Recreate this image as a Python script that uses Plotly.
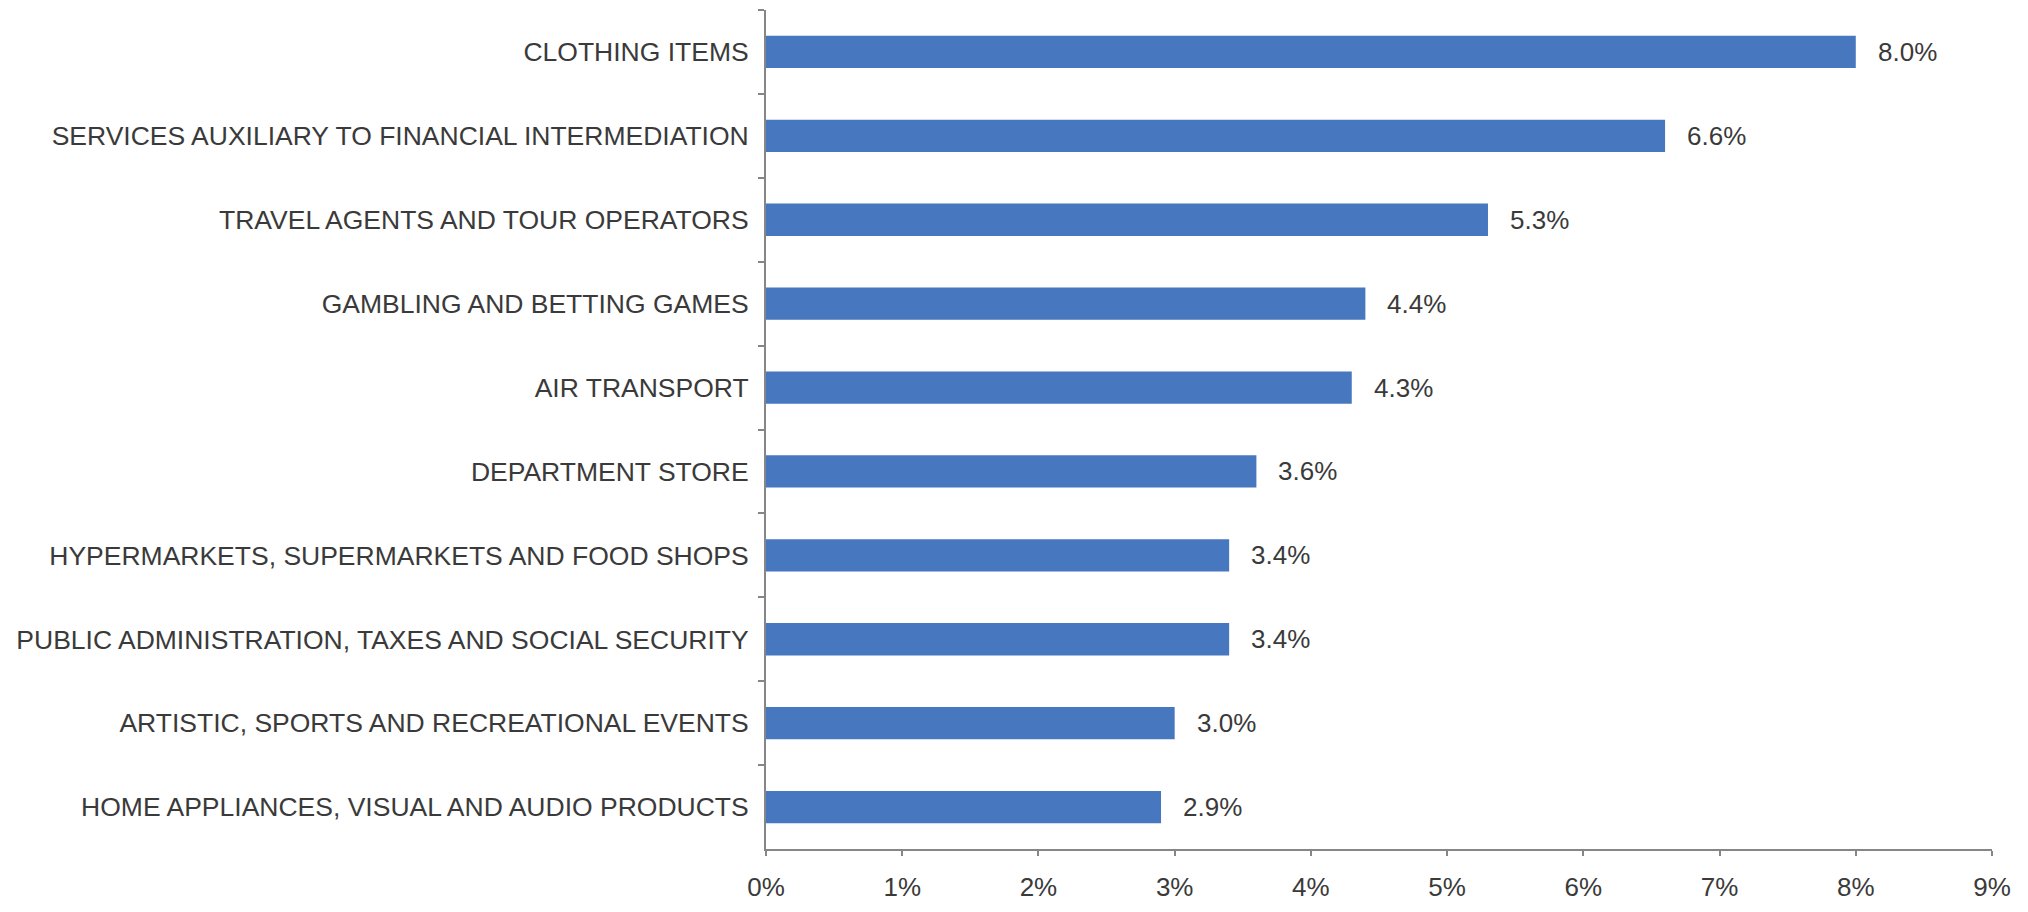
import plotly.graph_objects as go

# Share of spending by merchant category (%)
categories = [
    "CLOTHING ITEMS",
    "SERVICES AUXILIARY TO FINANCIAL INTERMEDIATION",
    "TRAVEL AGENTS AND TOUR OPERATORS",
    "GAMBLING AND BETTING GAMES",
    "AIR TRANSPORT",
    "DEPARTMENT STORE",
    "HYPERMARKETS, SUPERMARKETS AND FOOD SHOPS",
    "PUBLIC ADMINISTRATION, TAXES AND SOCIAL SECURITY",
    "ARTISTIC, SPORTS AND RECREATIONAL EVENTS",
    "HOME APPLIANCES, VISUAL AND AUDIO PRODUCTS",
]
values = [8.0, 6.6, 5.3, 4.4, 4.3, 3.6, 3.4, 3.4, 3.0, 2.9]
x_ticks = list(range(0, 10))
x_tick_labels = [f"{t}%" for t in x_ticks]

BAR = "#4677BF"
TEXT = "#3A3A3A"
AXIS = "#868686"
FONT = "Liberation Sans, Arial, sans-serif"

fig = go.Figure(
    go.Bar(
        x=values,
        y=categories,
        orientation="h",
        marker=dict(color=BAR, line=dict(width=0)),
        hoverinfo="skip",
    )
)

# Value labels to the right of each bar
for cat, v in zip(categories, values):
    fig.add_annotation(
        x=v, y=cat, text=f"{v:.1f}%", showarrow=False,
        xanchor="left", yanchor="middle", xshift=20,
        font=dict(family=FONT, size=26, color=TEXT),
    )

fig.update_layout(
    width=2028,
    height=912,
    margin=dict(l=766, r=36, t=10, b=43),
    paper_bgcolor="white",
    plot_bgcolor="white",
    bargap=0.615,
    showlegend=False,
    font=dict(family=FONT, size=26, color=TEXT),
)

fig.update_xaxes(
    range=[0, 9],
    tickvals=x_ticks,
    ticktext=x_tick_labels,
    showgrid=False,
    zeroline=False,
    showline=True,
    linecolor=AXIS,
    linewidth=2,
    ticks="outside",
    ticklen=5,
    tickwidth=2,
    tickcolor=AXIS,
    ticklabelstandoff=9,
    tickfont=dict(family=FONT, size=26, color=TEXT),
)

fig.update_yaxes(
    type="category",
    categoryorder="array",
    categoryarray=categories,
    autorange="reversed",
    showgrid=False,
    zeroline=False,
    showline=True,
    linecolor=AXIS,
    linewidth=2,
    ticks="outside",
    tickson="boundaries",
    ticklen=6,
    tickwidth=2,
    tickcolor=AXIS,
    ticklabelstandoff=10,
    tickfont=dict(family=FONT, size=26.5, color=TEXT),
)

fig.write_html("out.html")
